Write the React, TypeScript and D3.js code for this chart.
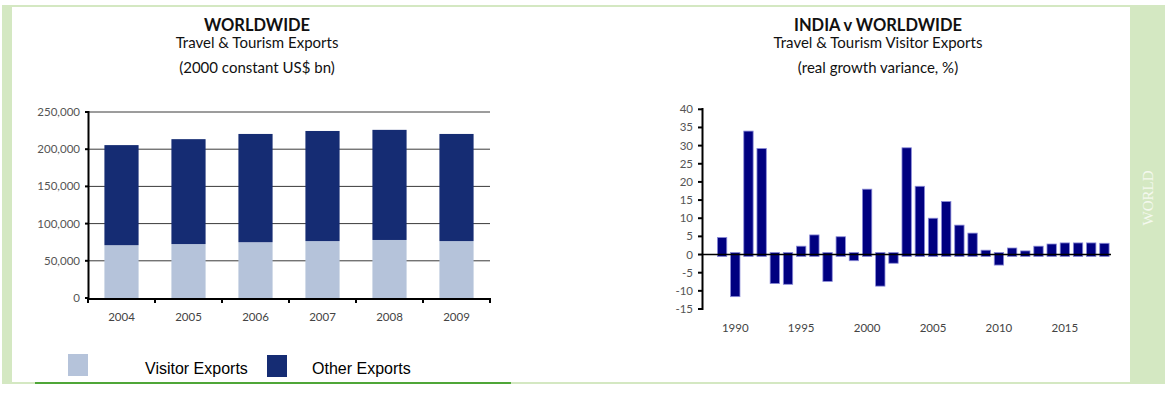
import React from 'react';
import * as d3 from 'd3';

const exportYears = ['2004', '2005', '2006', '2007', '2008', '2009'];
const visitorExports = [71000, 72500, 75000, 76500, 78000, 76500];
const otherExports = [134500, 141000, 145500, 148000, 148000, 144000];
const exportTicks = [0, 50000, 100000, 150000, 200000, 250000];

const growthYears = [
  '1989', '1990', '1991', '1992', '1993', '1994', '1995', '1996', '1997', '1998',
  '1999', '2000', '2001', '2002', '2003', '2004', '2005', '2006', '2007', '2008',
  '2009', '2010', '2011', '2012', '2013', '2014', '2015', '2016', '2017', '2018',
];
const growthVariance = [
  4.7, -11.6, 34.0, 29.2, -8.0, -8.2, 2.3, 5.4, -7.4, 4.9,
  -1.7, 18.0, -8.7, -2.4, 29.4, 18.8, 10.0, 14.6, 8.1, 5.9,
  1.2, -2.9, 1.8, 1.0, 2.3, 2.9, 3.2, 3.2, 3.2, 3.1,
];
const growthTicks = [40, 35, 30, 25, 20, 15, 10, 5, 0, -5, -10, -15];
const growthLabels = ['1990', '1995', '2000', '2005', '2010', '2015'];

const TITLE_FONT = 'Lato, "Open Sans", sans-serif';
const LIGHT_GREEN = '#d4e8c2';
const DARK_GREEN = '#4fa638';
const VISITOR_COLOR = '#b5c3da';
const OTHER_COLOR = '#152c73';
const BAR_NAVY = '#000080';

export default function App() {
  // Left chart scales
  const xL = d3.scaleBand<string>().domain(exportYears).range([88, 490]).paddingInner(0.49).paddingOuter(0.245);
  const yL = d3.scaleLinear().domain([0, 250000]).range([298, 112]);
  const fmt = d3.format(',');
  const boundaries = d3.range(exportYears.length + 1).map((i) => xL.range()[0] + i * xL.step());

  // Right chart scales
  const xR = d3.scaleBand<string>().domain(growthYears).range([715.5, 1111]).paddingInner(0.29).paddingOuter(0.145);
  const yR = d3.scaleLinear().domain([-15, 40]).range([309, 109.3]);
  const zero = yR(0);

  return (
    <svg
      width={1165}
      height={394}
      style={{ position: 'absolute', left: 0, top: 0, background: '#fff' }}
    >
      {/* Frame */}
      <rect x={2} y={5} width={1163} height={2} fill={LIGHT_GREEN} />
      <rect x={2} y={5} width={10} height={378} fill={LIGHT_GREEN} />
      <rect x={2} y={382} width={1133} height={2} fill={LIGHT_GREEN} />
      <rect x={35} y={382} width={476} height={2} fill={DARK_GREEN} />
      <rect x={1130} y={5} width={35} height={379} fill={LIGHT_GREEN} />
      <text
        transform="translate(1153,198) rotate(-90)"
        textAnchor="middle"
        fontFamily='"Liberation Serif", "DejaVu Serif", serif'
        fontSize={15}
        fill="#f4f9ef"
      >
        WORLD
      </text>

      {/* Left chart titles */}
      <g fontFamily={TITLE_FONT} textAnchor="middle" fill="#111">
        <text x={257} y={31} fontSize={16.5} fontWeight="bold">WORLDWIDE</text>
        <text x={257} y={48} fontSize={15}>Travel &amp; Tourism Exports</text>
        <text x={257} y={73} fontSize={15}>(2000 constant US$ bn)</text>
      </g>

      {/* Left gridlines */}
      {exportTicks.filter((t) => t > 0).map((t) => (
        <line key={t} x1={88} x2={490} y1={yL(t)} y2={yL(t)} stroke="#3a3a3a" strokeWidth={1} />
      ))}

      {/* Left bars */}
      {exportYears.map((yr, i) => (
        <g key={yr}>
          <rect
            x={xL(yr)}
            y={yL(visitorExports[i])}
            width={xL.bandwidth()}
            height={yL(0) - yL(visitorExports[i])}
            fill={VISITOR_COLOR}
          />
          <rect
            x={xL(yr)}
            y={yL(visitorExports[i] + otherExports[i])}
            width={xL.bandwidth()}
            height={yL(visitorExports[i]) - yL(visitorExports[i] + otherExports[i])}
            fill={OTHER_COLOR}
          />
        </g>
      ))}

      {/* Left axes */}
      <line x1={88.5} x2={88.5} y1={111} y2={300} stroke="#000" strokeWidth={2} />
      {exportTicks.map((t) => (
        <g key={t}>
          <line x1={85} x2={88} y1={yL(t)} y2={yL(t)} stroke="#000" strokeWidth={2} />
          <text
            x={80}
            y={yL(t)}
            dy="0.35em"
            textAnchor="end"
            fontFamily={TITLE_FONT}
            fontSize={11.5}
            fill="#555"
          >
            {fmt(t)}
          </text>
        </g>
      ))}
      <line x1={87.5} x2={491} y1={299} y2={299} stroke="#000" strokeWidth={2} />
      {boundaries.map((b, i) => (
        <line key={i} x1={b} x2={b} y1={299} y2={303} stroke="#000" strokeWidth={2} />
      ))}
      {exportYears.map((yr) => (
        <text
          key={yr}
          x={(xL(yr) as number) + xL.bandwidth() / 2}
          y={321}
          textAnchor="middle"
          fontFamily={TITLE_FONT}
          fontSize={11.5}
          fill="#444"
        >
          {yr}
        </text>
      ))}

      {/* Legend */}
      <rect x={68} y={354} width={20} height={22} fill={VISITOR_COLOR} />
      <text x={145} y={374} fontFamily='"Liberation Sans", Arial, sans-serif' fontSize={16} fill="#000">
        Visitor Exports
      </text>
      <rect x={267} y={355} width={20} height={22} fill={OTHER_COLOR} />
      <text x={312} y={374} fontFamily='"Liberation Sans", Arial, sans-serif' fontSize={16} fill="#000">
        Other Exports
      </text>

      {/* Right chart titles */}
      <g fontFamily={TITLE_FONT} textAnchor="middle" fill="#111">
        <text x={878} y={31} fontSize={16.5} fontWeight="bold">INDIA v WORLDWIDE</text>
        <text x={878} y={48} fontSize={15}>Travel &amp; Tourism Visitor Exports</text>
        <text x={878} y={73} fontSize={15}>(real growth variance, %)</text>
      </g>

      {/* Right bars */}
      {growthYears.map((yr, i) => {
        const v = growthVariance[i];
        const top = v >= 0 ? yR(v) : zero - 2;
        const bottom = v >= 0 ? zero + 2 : yR(v);
        return (
          <rect
            key={yr}
            x={xR(yr)}
            y={top}
            width={xR.bandwidth()}
            height={bottom - top}
            fill={BAR_NAVY}
            stroke="#8a8ad8"
            strokeWidth={0.8}
          />
        );
      })}

      {/* Right axes */}
      <line x1={702} x2={1111} y1={zero} y2={zero} stroke="#000" strokeWidth={1.5} />
      <line x1={702.5} x2={702.5} y1={108} y2={310} stroke="#000" strokeWidth={2} />
      {growthTicks.map((t) => (
        <g key={t}>
          <line x1={698} x2={702} y1={yR(t)} y2={yR(t)} stroke="#000" strokeWidth={2} />
          <text
            x={693}
            y={yR(t)}
            dy="0.35em"
            textAnchor="end"
            fontFamily={TITLE_FONT}
            fontSize={11.5}
            fill="#555"
          >
            {t}
          </text>
        </g>
      ))}
      {growthLabels.map((yr) => (
        <text
          key={yr}
          x={(xR(yr) as number) + xR.bandwidth() / 2}
          y={332}
          textAnchor="middle"
          fontFamily={TITLE_FONT}
          fontSize={11.5}
          fill="#444"
        >
          {yr}
        </text>
      ))}
    </svg>
  );
}
